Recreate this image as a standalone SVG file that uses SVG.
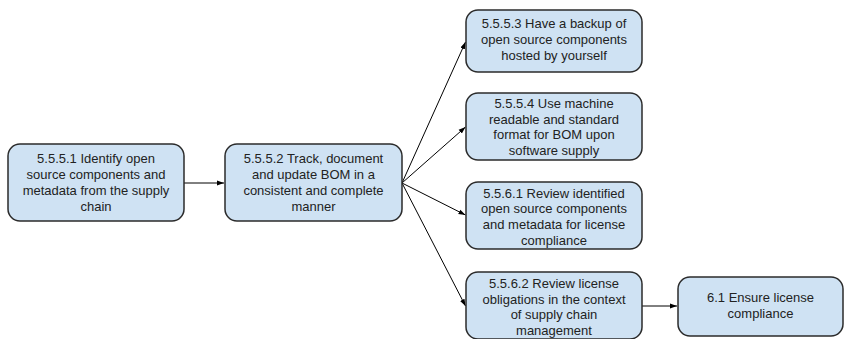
<svg xmlns="http://www.w3.org/2000/svg" width="849" height="339" viewBox="0 0 849 339">
<defs>
<marker id="arr" viewBox="0 0 10 10" refX="10" refY="5" markerWidth="7" markerHeight="7" orient="auto" markerUnits="userSpaceOnUse">
<path d="M0,1.5 L10,5 L0,8.5 z" fill="#000"/>
</marker>
<style>
.box{fill:#cfe2f3;stroke:#2b2b2b;stroke-width:1.5}
.t{font-family:"Liberation Sans",Arial,sans-serif;font-size:13px;fill:#222;text-anchor:middle}
.e{stroke:#000;stroke-width:1;fill:none;marker-end:url(#arr)}
</style>
</defs>
<rect width="849" height="339" fill="#fff"/>
<g id="connectors">
<line class="e" x1="184" y1="183" x2="224" y2="183"/>
<line class="e" x1="402" y1="183" x2="465.5" y2="42"/>
<line class="e" x1="402" y1="183" x2="465.5" y2="127"/>
<line class="e" x1="402" y1="183" x2="465.5" y2="215"/>
<line class="e" x1="402" y1="183" x2="465.5" y2="306"/>
<line class="e" x1="642" y1="306" x2="677" y2="306"/>
</g>
<g id="n1">
<rect class="box" x="8" y="144" width="176" height="77" rx="12"/>
<text class="t" x="96" y="162.5">5.5.5.1 Identify open</text>
<text class="t" x="96" y="178.5">source components and</text>
<text class="t" x="96" y="194.5">metadata from the supply</text>
<text class="t" x="96" y="210.5">chain</text>
</g>
<g id="n2">
<rect class="box" x="225" y="144" width="177" height="77" rx="12"/>
<text class="t" x="313.5" y="162.5">5.5.5.2 Track, document</text>
<text class="t" x="313.5" y="178.5">and update BOM in a</text>
<text class="t" x="313.5" y="194.5">consistent and complete</text>
<text class="t" x="313.5" y="210.5">manner</text>
</g>
<g id="n3">
<rect class="box" x="466" y="10" width="176" height="62" rx="12"/>
<text class="t" x="554" y="28">5.5.5.3 Have a backup of</text>
<text class="t" x="554" y="44">open source components</text>
<text class="t" x="554" y="60">hosted by yourself</text>
</g>
<g id="n4">
<rect class="box" x="466" y="93" width="176" height="67" rx="12"/>
<text class="t" x="554" y="108">5.5.5.4 Use machine</text>
<text class="t" x="554" y="123.7">readable and standard</text>
<text class="t" x="554" y="139.4">format for BOM upon</text>
<text class="t" x="554" y="155">software supply</text>
</g>
<g id="n5">
<rect class="box" x="466" y="182" width="176" height="67" rx="12"/>
<text class="t" x="554" y="197.5">5.5.6.1 Review identified</text>
<text class="t" x="554" y="213.3">open source components</text>
<text class="t" x="554" y="229.1">and metadata for license</text>
<text class="t" x="554" y="245">compliance</text>
</g>
<g id="n6">
<rect class="box" x="466" y="272" width="176" height="67" rx="12"/>
<text class="t" x="554" y="288">5.5.6.2 Review license</text>
<text class="t" x="554" y="303.5">obligations in the context</text>
<text class="t" x="554" y="319">of supply chain</text>
<text class="t" x="554" y="334.5">management</text>
</g>
<g id="n7">
<rect class="box" x="678" y="277" width="165" height="59" rx="12"/>
<text class="t" x="760.5" y="302">6.1 Ensure license</text>
<text class="t" x="760.5" y="318">compliance</text>
</g>
</svg>
